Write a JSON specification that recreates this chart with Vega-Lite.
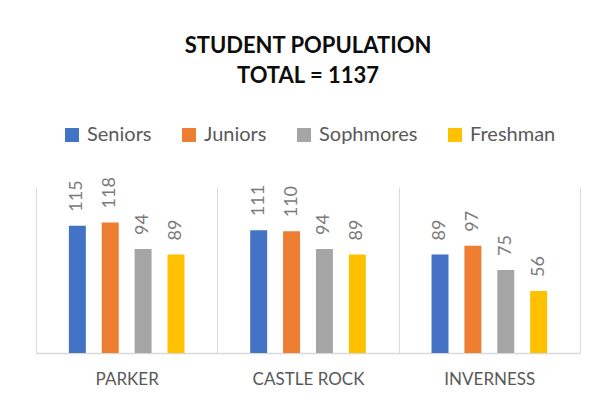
{
  "$schema": "https://vega.github.io/schema/vega-lite/v6.json",
  "width": 544,
  "height": 166,
  "autosize": "none",
  "padding": {"left": 36, "top": 187, "right": 23, "bottom": 56},
  "background": "white",
  "title": {
    "text": ["STUDENT POPULATION", "TOTAL = 1137"],
    "font": "Lato",
    "fontSize": 22,
    "fontWeight": "bold",
    "color": "#0d0d0d",
    "lineHeight": 30,
    "anchor": "middle",
    "offset": 37
  },
  "data": {
    "values": [
      {"school": "PARKER", "class": "Seniors", "count": 115},
      {"school": "PARKER", "class": "Juniors", "count": 118},
      {"school": "PARKER", "class": "Sophmores", "count": 94},
      {"school": "PARKER", "class": "Freshman", "count": 89},
      {"school": "CASTLE ROCK", "class": "Seniors", "count": 111},
      {"school": "CASTLE ROCK", "class": "Juniors", "count": 110},
      {"school": "CASTLE ROCK", "class": "Sophmores", "count": 94},
      {"school": "CASTLE ROCK", "class": "Freshman", "count": 89},
      {"school": "INVERNESS", "class": "Seniors", "count": 89},
      {"school": "INVERNESS", "class": "Juniors", "count": 97},
      {"school": "INVERNESS", "class": "Sophmores", "count": 75},
      {"school": "INVERNESS", "class": "Freshman", "count": 56}
    ]
  },
  "encoding": {
    "x": {
      "field": "school",
      "type": "nominal",
      "sort": ["PARKER", "CASTLE ROCK", "INVERNESS"],
      "scale": {"paddingInner": 0, "paddingOuter": 0},
      "axis": {
        "title": null,
        "labelAngle": 0,
        "labelFont": "Lato",
        "labelFontSize": 17,
        "labelColor": "#595959",
        "labelPadding": 18,
        "ticks": false,
        "tickBand": "extent",
        "grid": true,
        "gridColor": "#d9d9d9",
        "gridWidth": 1,
        "domainColor": "#d9d9d9",
        "domainWidth": 1.5
      }
    },
    "xOffset": {
      "field": "class",
      "type": "nominal",
      "sort": ["Seniors", "Juniors", "Sophmores", "Freshman"],
      "scale": {"paddingInner": 0.484, "paddingOuter": 1.167}
    },
    "y": {
      "field": "count",
      "type": "quantitative",
      "scale": {"domain": [0, 150]},
      "axis": null
    }
  },
  "layer": [
    {
      "mark": {"type": "bar"},
      "encoding": {
        "color": {
          "field": "class",
          "type": "nominal",
          "sort": ["Seniors", "Juniors", "Sophmores", "Freshman"],
          "scale": {
            "domain": ["Seniors", "Juniors", "Sophmores", "Freshman"],
            "range": ["#4472C4", "#ED7D31", "#A5A5A5", "#FFC000"]
          },
          "legend": {
            "title": null,
            "orient": "none",
            "direction": "horizontal",
            "columns": 4,
            "legendX": 26,
            "legendY": -62,
            "symbolType": "square",
            "symbolSize": 196,
            "symbolStrokeWidth": 0,
            "labelFont": "Lato",
            "labelFontSize": 20,
            "labelColor": "#595959",
            "labelOffset": 5,
            "columnPadding": 27
          }
        }
      }
    },
    {
      "mark": {
        "type": "text",
        "angle": 270,
        "align": "left",
        "baseline": "middle",
        "dx": 14,
        "font": "Lato",
        "fontSize": 18,
        "color": "#7a7a7a"
      },
      "encoding": {
        "text": {"field": "count", "type": "quantitative"}
      }
    }
  ],
  "config": {
    "view": {"stroke": null}
  }
}
